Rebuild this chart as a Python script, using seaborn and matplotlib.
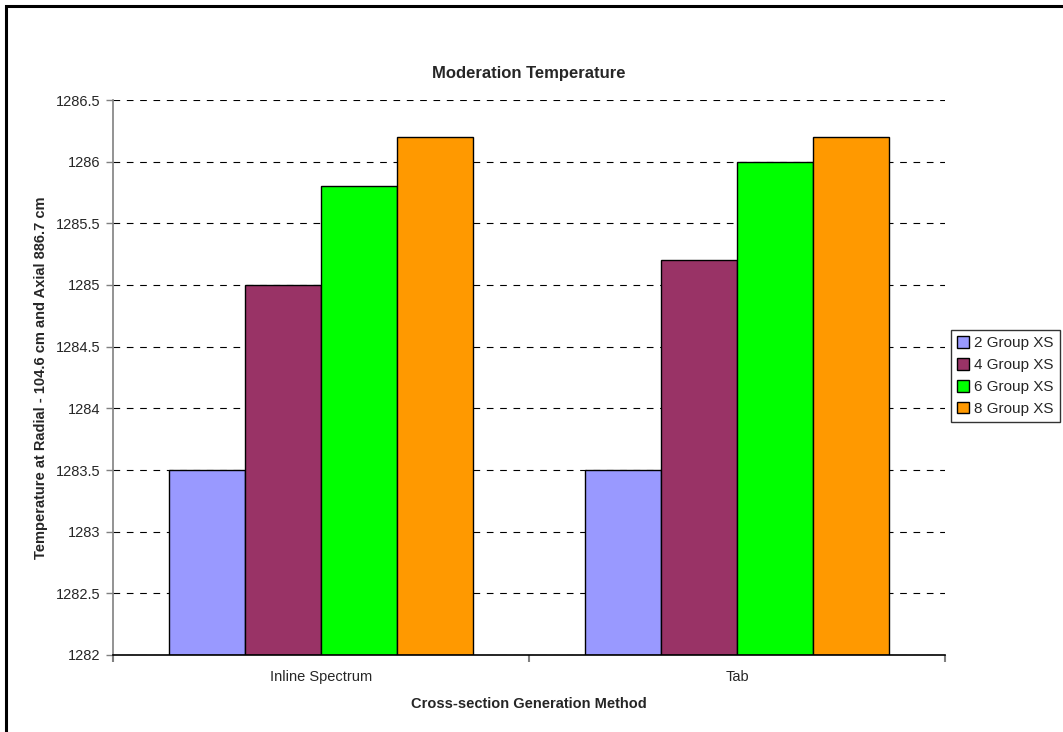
import pandas as pd
import matplotlib
matplotlib.use("Agg")
import matplotlib.pyplot as plt
import seaborn as sns
from matplotlib.patches import Rectangle

# --- data ---
methods = ["Inline Spectrum", "Tab"]
groups = ["2 Group XS", "4 Group XS", "6 Group XS", "8 Group XS"]
temp_2g = [1283.5, 1283.5]
temp_4g = [1285.0, 1285.2]
temp_6g = [1285.8, 1286.0]
temp_8g = [1286.2, 1286.2]
y_ticks = [1282, 1282.5, 1283, 1283.5, 1284, 1284.5, 1285, 1285.5, 1286, 1286.5]
y_tick_labels = ["1282", "1282.5", "1283", "1283.5", "1284", "1284.5",
                 "1285", "1285.5", "1286", "1286.5"]

colors = ["#9999FF", "#993366", "#00FF00", "#FF9900"]

rows = []
for g, vals in zip(groups, [temp_2g, temp_4g, temp_6g, temp_8g]):
    for m, v in zip(methods, vals):
        rows.append({"method": m, "group": g, "temp": v})
df = pd.DataFrame(rows)

sns.set_style("white")
plt.rcParams["font.family"] = ["Liberation Sans", "DejaVu Sans"]

fig = plt.figure(figsize=(10.63, 7.32), dpi=100)
ax = fig.add_axes([113 / 1063, 77 / 732, 832 / 1063, 555 / 732])

sns.barplot(data=df, x="method", y="temp", hue="group", hue_order=groups,
            palette=colors, saturation=1, width=0.73, edgecolor="black",
            linewidth=1.0, ax=ax, legend=True)

# bars start from the axis floor, not zero
ax.set_ylim(1282, 1286.5)
for p in ax.patches:
    if p.get_height() > 0 and p.get_y() == 0:
        h = p.get_height()
        p.set_y(1282)
        p.set_height(h - 1282)

ax.set_xlim(-0.5, 1.5)
ax.set_yticks(y_ticks)
ax.set_yticklabels(y_tick_labels)
ax.yaxis.grid(True, linestyle=(0, (6, 6)), color="black", linewidth=0.8)
ax.set_axisbelow(True)

ax.set_xticks([0, 1])
ax.set_xticks([-0.5, 0.5, 1.5], minor=True)
ax.tick_params(axis="x", which="major", bottom=True, length=0, pad=11,
               labelsize=10.5)
ax.tick_params(axis="x", which="minor", bottom=True, length=5,
               color="#808080", width=1.5, direction="out")
ax.tick_params(axis="y", left=True, length=5, color="#808080", width=1,
               direction="out", labelsize=10.5, pad=4)

for side in ["top", "right"]:
    ax.spines[side].set_visible(False)
ax.spines["left"].set_color("#808080")
ax.spines["left"].set_linewidth(1.2)
ax.spines["bottom"].set_color("black")
ax.spines["bottom"].set_linewidth(1.2)

ax.set_title("Moderation Temperature", fontsize=12, weight="bold", pad=16)
ax.set_xlabel("Cross-section Generation Method", fontsize=10.5, weight="bold",
              labelpad=9)
ax.set_ylabel("Temperature at Radial - 104.6 cm and Axial 886.7 cm",
              fontsize=10.5, weight="bold", labelpad=6)

leg = ax.legend(loc="center left", bbox_to_anchor=(951 / 1063, 1 - 376 / 732),
                bbox_transform=fig.transFigure, frameon=True, fancybox=False,
                edgecolor="black", fontsize=11, handlelength=0.8,
                handleheight=0.8, handletextpad=0.3, borderpad=0.4,
                labelspacing=0.5, borderaxespad=0)
leg.get_frame().set_linewidth(1.0)

# outer chart border (runs off the bottom-right of the image)
fig.patches.append(Rectangle((6 / 1063, -0.05), 1.1, 1 - 6 / 732 + 0.05,
                             transform=fig.transFigure, fill=False,
                             edgecolor="black", linewidth=2.2, zorder=10))

fig.savefig("out.png", dpi=100)
